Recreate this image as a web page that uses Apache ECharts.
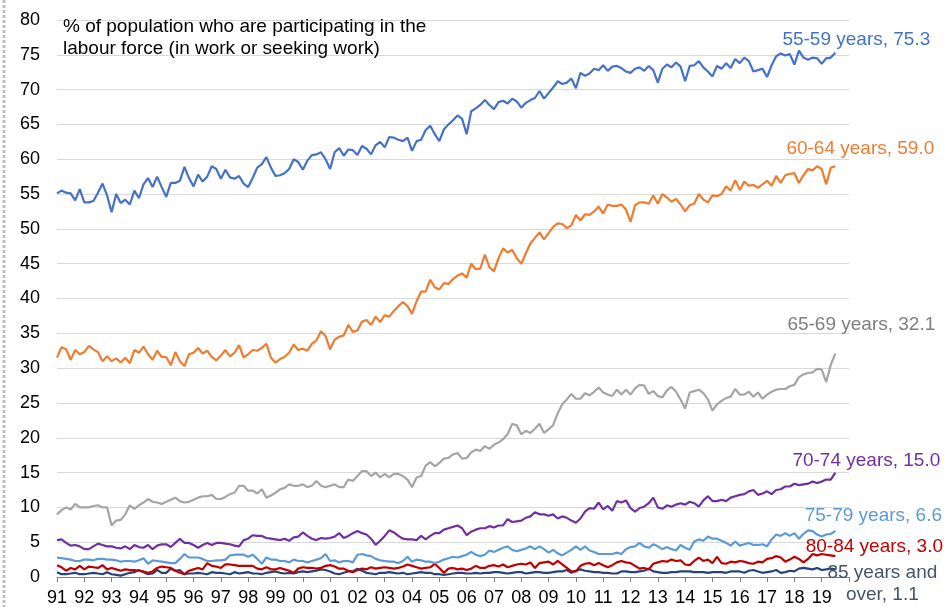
<!DOCTYPE html>
<html>
<head>
<meta charset="utf-8">
<script src="https://cdn.jsdelivr.net/npm/echarts@6/dist/echarts.min.js"></script>
<style>
  html, body { margin: 0; padding: 0; background: #fff; }
  #chart { width: 944px; height: 607px; }
</style>
</head>
<body>
<div id="chart"></div>
<script>
// monthly-ish samples, every 2 months from Jan 1991
const startYear = 1991
const perYear = 6
const yearLabels = ["91","92","93","94","95","96","97","98","99","00","01","02","03","04","05","06","07","08","09","10","11","12","13","14","15","16","17","18","19"]
const seriesNames = ["55-59 years", "60-64 years", "65-69 years", "70-74 years", "75-79 years", "80-84 years", "85 years and over"]

const age5559 = [
  55.1,55.5,55.2,55.1,54.1,55.7, 53.8,53.8,54.0,55.2,56.5,54.8, 52.4,55.0,53.7,54.2,53.5,55.5,
  54.4,56.4,57.3,56.0,57.5,56.0, 54.6,56.6,56.6,56.9,58.9,57.3, 56.1,57.8,56.8,57.5,59.0,58.6,
  57.2,58.5,57.4,57.2,57.6,56.5, 56.0,57.3,58.8,59.3,60.3,58.8, 57.6,57.7,58.0,58.6,60.0,59.6,
  58.5,59.8,60.6,60.7,61.0,60.0, 58.6,61.0,61.6,60.5,61.4,61.3, 60.6,61.9,61.5,60.7,62.0,62.5,
  61.7,63.2,63.1,62.8,62.6,63.1, 61.2,62.6,62.8,64.2,64.8,63.6, 62.6,64.3,65.0,65.6,66.3,65.8,
  63.6,66.9,67.3,67.8,68.5,67.8, 67.2,68.2,68.4,68.0,68.7,68.3, 67.4,68.1,68.5,68.8,69.8,68.7,
  69.5,70.3,71.2,70.8,71.0,71.6, 70.2,72.4,72.0,72.3,73.0,72.8, 73.5,72.7,73.3,73.4,73.1,72.6,
  72.4,73.0,73.2,72.7,73.4,72.8, 71.0,73.0,73.6,73.2,73.9,73.3, 71.2,73.4,73.5,74.1,73.2,72.6,
  71.9,73.4,73.0,73.8,73.1,74.4, 73.8,74.6,74.1,72.6,72.8,73.0, 71.8,73.5,74.8,75.2,74.9,75.1,
  73.6,75.6,74.6,74.3,74.6,74.5, 73.7,74.5,74.6,75.3
]
const age6064 = [
  31.5,33.0,32.7,31.2,32.6,32.0, 32.3,33.2,32.7,32.3,31.0,31.7, 31.0,31.4,30.8,31.5,30.7,32.6,
  32.2,33.1,32.0,31.2,32.5,31.6, 31.6,30.4,32.3,31.0,30.3,32.0, 32.2,32.9,32.1,32.5,31.6,31.1,
  31.8,32.6,31.7,32.2,33.3,31.5, 32.0,32.6,32.5,32.9,33.5,31.5, 30.8,31.3,31.6,32.2,33.4,32.6,
  32.8,32.5,33.5,34.0,35.3,34.6, 32.7,34.1,34.5,34.7,36.2,35.2, 35.4,36.7,36.9,36.2,37.4,36.6,
  37.6,37.4,38.2,38.9,39.5,38.9, 37.8,39.6,41.0,41.0,42.7,41.6, 41.3,42.2,42.1,42.8,43.3,43.6,
  43.0,45.0,44.2,44.3,46.3,44.5, 43.9,45.8,47.2,46.6,47.0,45.8, 45.0,46.5,47.9,48.7,49.5,48.5,
  49.4,50.3,50.8,50.7,50.1,50.5, 52.0,51.2,52.1,52.0,52.5,53.2, 52.2,53.5,53.3,53.3,53.5,52.8,
  51.0,53.4,53.8,53.8,53.6,54.8, 53.6,55.0,54.5,53.9,54.3,53.5, 52.5,53.4,53.6,55.0,54.2,53.8,
  54.8,54.7,55.0,56.1,55.5,57.0, 55.6,56.8,56.2,56.3,55.9,56.4, 56.9,56.2,57.6,56.6,57.7,57.9,
  58.0,56.6,57.7,58.6,58.4,59.0, 58.6,56.4,58.8,59.0
]
const age6569 = [
  9.0,9.6,10.0,9.7,10.5,10.0, 10.0,10.0,10.2,10.3,10.0,10.0, 7.4,8.1,8.2,9.0,10.3,9.8,
  10.3,10.7,11.2,10.8,10.7,10.5, 10.8,11.1,11.4,10.9,10.7,10.8, 11.1,11.4,11.6,11.6,11.8,11.2,
  11.2,11.5,11.9,12.1,13.1,13.1, 12.4,12.4,12.0,12.6,11.4,11.7, 12.1,12.6,12.8,13.3,13.1,13.1,
  13.3,12.9,13.1,13.8,13.1,12.9, 13.1,13.3,12.9,12.9,14.0,13.8, 14.5,15.2,15.2,14.5,15.0,14.3,
  14.8,14.3,14.8,14.8,14.5,14.0, 12.9,14.3,14.5,16.0,16.5,15.9, 16.4,17.0,17.1,17.6,17.8,17.0,
  17.1,17.9,18.3,18.1,18.8,18.4, 19.0,19.3,19.8,20.5,22.0,21.8, 20.5,21.0,20.7,21.3,22.0,20.7,
  21.2,21.8,23.5,24.8,25.5,26.3, 25.6,25.6,26.4,26.1,26.6,27.2, 26.5,26.2,26.0,26.9,26.2,26.9,
  26.2,27.1,27.6,27.5,26.3,26.7, 26.0,25.8,26.8,27.3,26.6,25.5, 24.2,26.5,26.7,26.9,26.4,25.5,
  23.9,24.8,25.3,25.7,25.9,27.0, 26.2,26.2,26.6,25.9,26.5,25.6, 26.2,26.6,26.9,27.0,27.0,27.4,
  27.6,28.7,29.1,29.3,29.4,29.9, 29.8,28.0,30.5,32.1
]
const age7074 = [
  5.3,5.4,4.9,4.5,4.6,4.4, 4.0,4.0,4.4,4.8,4.6,4.4, 4.4,4.2,4.1,4.4,4.0,4.6,
  4.3,4.2,4.6,4.0,4.5,4.7, 4.7,4.3,4.9,5.5,4.9,4.9, 4.6,4.2,4.6,4.9,4.6,4.9,
  4.9,4.8,4.7,4.5,4.4,5.3, 5.5,6.0,5.9,5.9,5.6,5.5, 5.4,5.3,5.5,5.2,5.7,5.8,
  6.4,5.9,5.5,5.3,5.6,5.5, 5.6,5.8,6.3,5.6,5.9,6.3, 6.6,6.3,6.1,5.5,4.6,5.2,
  5.9,6.7,6.4,5.9,5.5,5.4, 5.4,5.3,5.9,5.4,5.9,6.3, 6.3,6.8,7.0,7.2,7.4,7.0,
  6.0,6.5,6.8,7.0,7.0,7.3, 7.1,7.4,7.4,8.3,7.9,8.0, 8.1,8.5,8.7,9.3,9.0,9.0,
  8.8,9.0,8.4,8.7,8.5,8.1, 7.8,8.4,9.4,9.9,9.8,10.7, 9.7,10.2,9.5,10.9,10.7,11.0,
  9.9,9.4,9.9,10.1,10.6,11.4, 10.0,9.8,10.3,10.1,10.4,10.6, 10.4,10.8,10.6,10.1,11.0,11.6,
  10.9,10.9,11.1,10.9,11.4,11.6, 11.8,11.9,12.3,12.5,11.8,12.0, 12.3,11.9,12.5,12.6,13.0,13.0,
  13.4,13.2,13.3,13.4,13.7,13.5, 13.7,14.0,14.0,15.0
]
const age7579 = [
  2.8,2.7,2.6,2.5,2.3,2.3, 2.5,2.5,2.4,2.6,2.6,2.5, 2.5,2.4,2.2,2.3,2.3,2.2,
  2.4,2.7,1.9,2.4,2.3,2.2, 2.1,2.0,2.0,2.6,3.3,2.8, 2.8,2.8,2.6,2.3,2.3,2.4,
  2.4,2.5,3.1,3.2,3.2,3.2, 2.9,3.2,2.6,1.9,2.8,2.5, 2.5,2.3,2.3,2.1,2.5,2.3,
  2.3,2.1,2.3,2.5,2.7,3.3, 2.3,2.4,2.1,2.3,2.3,2.1, 3.2,3.3,3.1,3.0,2.6,2.4,
  2.3,2.2,2.2,2.0,2.3,2.9, 2.2,2.5,2.4,2.2,2.2,2.0, 2.2,2.5,2.7,2.9,2.8,3.0,
  3.2,3.6,3.2,3.0,3.2,3.8, 3.6,3.9,4.2,4.4,3.9,3.7, 3.9,4.1,4.4,4.0,4.4,4.0,
  3.5,3.9,3.4,3.1,3.5,3.9, 4.4,3.9,4.4,3.8,3.6,3.3, 3.3,3.3,3.3,3.5,3.3,4.0,
  4.3,4.4,4.9,4.4,4.2,4.7, 4.4,4.0,4.3,4.0,3.8,4.6, 4.2,3.9,5.1,5.4,5.2,5.8,
  5.5,5.5,5.2,4.9,4.5,5.1, 4.5,4.7,4.9,4.6,4.6,4.7, 4.4,5.4,6.1,5.9,6.3,5.9,
  6.3,5.5,6.2,6.7,6.6,6.1, 5.8,6.1,6.2,6.6
]
const age8084 = [
  1.7,1.4,0.9,1.3,1.1,1.6, 1.1,1.5,1.4,1.3,1.7,1.1, 1.3,1.1,0.9,1.1,1.0,1.0,
  0.9,0.8,0.6,0.8,1.3,1.5, 1.4,1.3,0.9,0.6,0.4,0.9, 1.1,1.3,1.1,2.0,1.6,1.5,
  1.3,1.8,1.8,1.7,1.6,1.6, 1.6,1.6,1.2,1.1,1.4,1.1, 1.1,1.3,1.1,0.9,0.6,1.2,
  1.4,1.3,1.3,1.2,1.3,1.6, 1.7,1.5,1.2,1.2,0.9,0.7, 1.0,1.2,1.1,1.4,1.2,1.3,
  1.4,1.3,1.2,1.3,1.5,1.8, 1.6,1.4,1.2,1.3,1.4,1.9, 1.3,0.6,1.2,1.3,1.1,1.2,
  1.0,1.2,1.6,1.3,1.3,1.6, 1.7,1.5,1.8,1.4,1.6,1.8, 1.9,1.8,2.1,1.3,2.0,2.1,
  2.2,1.8,2.3,1.8,1.3,0.8, 0.8,1.6,1.9,2.0,1.7,2.0, 1.7,1.4,1.7,2.1,2.3,2.1,
  2.0,1.6,1.2,1.3,1.1,1.9, 2.1,2.3,2.2,2.5,2.3,2.4, 1.8,1.7,2.3,2.8,2.3,2.5,
  2.0,2.9,2.0,1.9,2.2,2.1, 2.3,2.2,2.0,1.9,2.2,2.1, 2.6,2.7,3.0,2.8,2.2,2.5,
  2.9,2.6,2.1,2.6,3.3,3.1, 3.3,3.2,3.1,3.0
]
const age85plus = [
  0.7,0.4,0.4,0.5,0.6,0.4, 0.4,0.5,0.6,0.5,0.4,0.7, 0.4,0.3,0.2,0.4,0.6,0.7,
  1.0,0.7,0.4,0.5,1.0,0.6, 0.6,1.2,0.9,1.0,0.4,0.5, 0.5,0.6,0.5,0.4,0.7,0.6,
  0.6,0.5,0.4,0.7,0.5,0.6, 0.7,0.5,0.5,0.4,0.6,0.7, 0.8,0.6,0.5,0.6,0.5,0.7,
  0.8,0.7,0.8,0.9,1.1,1.0, 0.8,0.5,0.4,0.6,0.8,0.8, 1.2,0.9,0.6,0.5,0.4,0.6,
  0.6,0.7,0.6,0.5,0.6,0.4, 0.5,0.6,0.7,0.6,0.6,0.4, 0.4,0.3,0.4,0.5,0.6,0.6,
  0.5,0.5,0.6,0.5,0.6,0.6, 0.7,0.7,0.6,0.5,0.6,0.7, 0.7,0.5,0.6,0.7,0.7,0.6,
  0.6,0.7,0.8,0.8,1.0,0.6, 0.9,1.1,0.9,0.8,0.7,0.7, 0.6,0.6,0.5,0.5,0.8,0.8,
  0.7,0.7,0.8,0.9,1.2,0.8, 0.7,0.6,0.6,0.7,0.7,0.8, 0.8,0.8,0.7,0.7,0.7,0.6,
  0.7,0.7,0.7,0.6,0.8,0.8, 0.8,0.6,0.9,1.0,0.8,0.6, 0.7,0.8,1.0,0.6,0.7,0.9,
  0.8,1.2,1.3,1.2,1.1,1.3, 1.0,1.1,1.2,1.1
]

const allValues = [age5559, age6064, age6569, age7074, age7579, age8084, age85plus]
const lineColors = ["#4472C4", "#ED7D31", "#A5A5A5", "#7030A0", "#5B9BD5", "#C00000", "#264478"]
const labelColors = ["#4472C4", "#ED7D31", "#7F7F7F", "#7030A0", "#5B9BD5", "#C00000", "#44546A"]
// label centre offset from the last point, in px
const labelOffsets = [[21, -13], [25, -17], [26, -29], [31, -12], [38, -15], [39, -9], [47, 14]]

const font = "'Liberation Sans', Arial, sans-serif"

const chart = echarts.init(document.getElementById("chart"))

function toPoints(values) {
  return values.map((v, i) => [startYear + i / perYear, v])
}

chart.setOption({
  animation: false,
  textStyle: { fontFamily: font },
  title: {
    text: "% of population who are participating in the\nlabour force (in work or seeking work)",
    left: 63,
    top: 16,
    padding: 0,
    textStyle: { fontSize: 19, fontWeight: "normal", color: "#000", lineHeight: 22, fontFamily: font },
  },
  grid: { left: 57, right: 95, top: 20, bottom: 29 },
  xAxis: {
    type: "value",
    min: 1991,
    max: 2020,
    interval: 1,
    splitLine: { show: false },
    axisLine: { lineStyle: { color: "#808080", width: 1 } },
    axisTick: { show: true, length: 5, lineStyle: { color: "#808080" } },
    axisLabel: {
      fontSize: 18,
      color: "#000",
      margin: 12,
      formatter: (v) => yearLabels[Math.round(v) - startYear] || "",
    },
  },
  yAxis: {
    type: "value",
    min: 0,
    max: 80,
    interval: 5,
    axisLine: { show: false },
    axisTick: { show: false },
    splitLine: { lineStyle: { color: "#D9D9D9", width: 1 } },
    axisLabel: { fontSize: 18, color: "#000", margin: 17 },
  },
  series: allValues.map((vals, i) => ({
    name: seriesNames[i],
    type: "line",
    data: toPoints(vals),
    showSymbol: false,
    lineStyle: { color: lineColors[i], width: 2.2 },
    itemStyle: { color: lineColors[i] },
    z: 10 - i,
  })),
})

// end labels placed from the last point of each series
const labels = allValues.map((vals, i) => {
  const last = vals.length - 1
  const p = chart.convertToPixel({ gridIndex: 0 }, [startYear + last / perYear, vals[last]])
  const name = i === 6 ? "85 years and\nover, " : seriesNames[i] + ", "
  return {
    type: "text",
    x: p[0] + labelOffsets[i][0],
    y: p[1] + labelOffsets[i][1],
    z: 100,
    style: {
      text: name + vals[last].toFixed(1),
      fill: labelColors[i],
      font: "19px " + font,
      align: "center",
      verticalAlign: "middle",
      lineHeight: 22,
    },
  }
})

chart.setOption({
  graphic: [
    {
      type: "line",
      shape: { x1: 4, y1: 0, x2: 4, y2: 607 },
      style: { stroke: "#BFBFBF", lineWidth: 3, lineDash: [3, 2] },
    },
  ].concat(labels),
})
</script>
</body>
</html>
